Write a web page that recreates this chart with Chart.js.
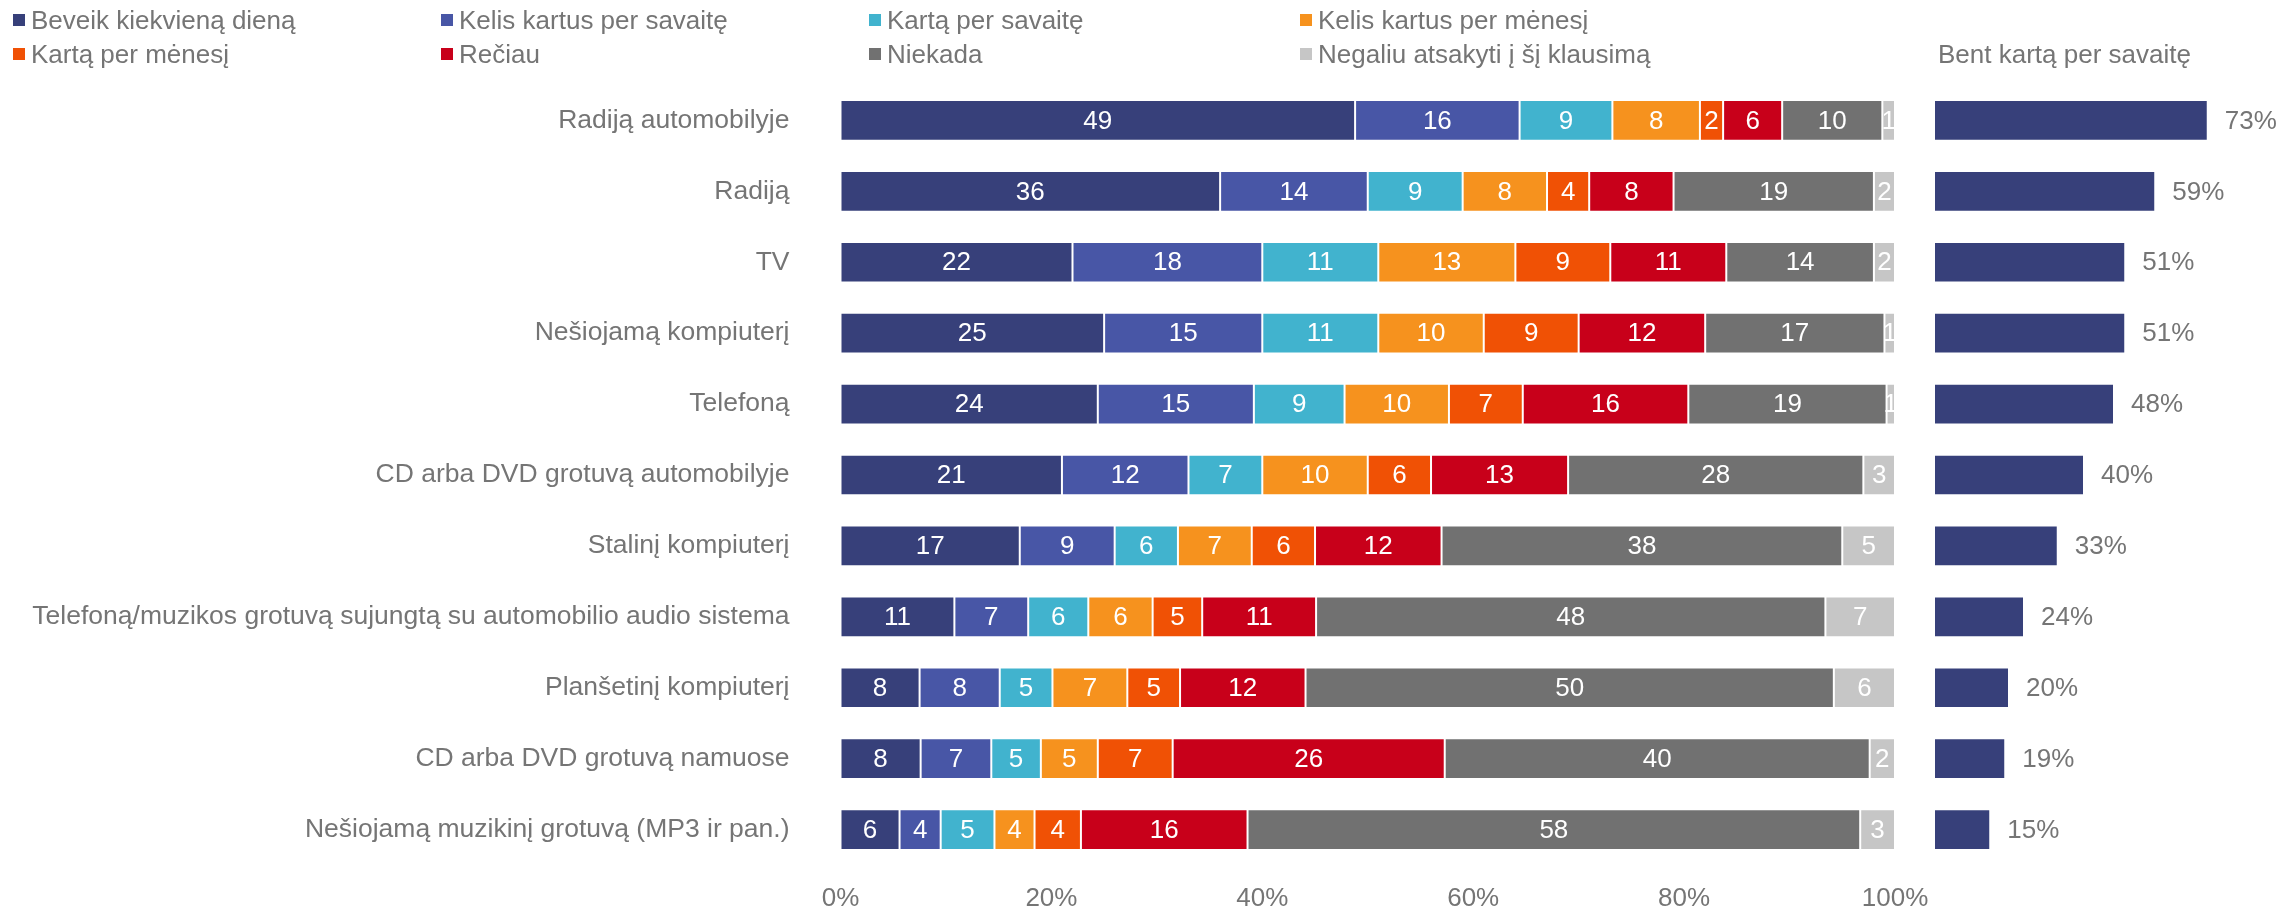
<!DOCTYPE html>
<html>
<head>
<meta charset="utf-8">
<title>Radijo ir muzikos klausymas</title>
<script src="https://cdn.jsdelivr.net/npm/chart.js@4.4.1/dist/chart.umd.min.js"></script>
<style>
  body { margin: 0; background: #fff; }
  #wrap { position: relative; width: 2280px; height: 908px; font-family: "Liberation Sans", Arial, sans-serif; color: #757575; }
  #wrap canvas { position: absolute; left: 0; top: 0; }
  .leg { position: absolute; display: flex; align-items: center; font-size: 26px; line-height: 30px; white-space: nowrap; }
  .leg i { display: inline-block; width: 12px; height: 12px; margin-right: 6px; }
  #rightTitle { position: absolute; left: 1938px; top: 39px; font-size: 26px; line-height: 30px; white-space: nowrap; }
</style>
</head>
<body>
<div id="wrap">
  <canvas id="main" width="2280" height="908"></canvas>
  <canvas id="side" width="2280" height="908"></canvas>
  <div id="legend"></div>
  <div id="rightTitle">Bent kartą per savaitę</div>
</div>
<script>
const categories = [
  "Radiją automobilyje",
  "Radiją",
  "TV",
  "Nešiojamą kompiuterį",
  "Telefoną",
  "CD arba DVD grotuvą automobilyje",
  "Stalinį kompiuterį",
  "Telefoną/muzikos grotuvą sujungtą su automobilio audio sistema",
  "Planšetinį kompiuterį",
  "CD arba DVD grotuvą namuose",
  "Nešiojamą muzikinį grotuvą (MP3 ir pan.)"
];

const seriesNames = [
  "Beveik kiekvieną dieną",
  "Kelis kartus per savaitę",
  "Kartą per savaitę",
  "Kelis kartus per mėnesį",
  "Kartą per mėnesį",
  "Rečiau",
  "Niekada",
  "Negaliu atsakyti į šį klausimą"
];

const seriesColors = ["#37407a", "#4856a6", "#41b3ce", "#f6921e", "#f05105", "#c8001a", "#717171", "#c6c6c6"];

// values (labels are the rounded values)
const everyDay      = [48.8, 36, 22, 25, 24.4, 21, 17, 10.8, 7.5,  7.6,  5.6];
const fewPerWeek    = [15.6, 14, 18, 15, 14.8, 12,  9,  7.0, 7.6,  6.7,  3.9];
const oncePerWeek   = [ 8.8,  9, 11, 11,  8.6,  7,  6,  5.7, 5.0,  4.7,  5.1];
const fewPerMonth   = [ 8.3,  8, 13, 10,  9.9, 10,  7,  6.1, 7.1,  5.4,  3.8];
const oncePerMonth  = [ 2.2,  4,  9,  9,  7.0,  6,  6,  4.7, 5.0,  7.1,  4.4];
const lessOften     = [ 5.6,  8, 11, 12, 15.7, 13, 12, 10.8, 11.9, 25.8, 15.8];
const never         = [ 9.5, 19, 14, 17, 18.8, 28, 38, 48.3, 50.1, 40.3, 58.1];
const cannotAnswer  = [ 1.2,  2,  2,  1,  0.8,  3,  5,  6.6, 5.8,  2.4,  3.3];

const atLeastWeekly = [73, 59, 51, 51, 48, 40, 33, 24, 20, 19, 15];

const xTicks = [0, 20, 40, 60, 80, 100];

const textColor = "#757575";
const fontFamily = '"Liberation Sans", Arial, sans-serif';

Chart.defaults.font.family = fontFamily;
Chart.defaults.font.size = 26;
Chart.defaults.color = textColor;

// html legend, 4 columns x 2 rows
const legendCols = [13, 441, 869, 1300];
const legendRows = [5, 39];
const legendEl = document.getElementById("legend");
seriesNames.forEach((name, i) => {
  const d = document.createElement("div");
  d.className = "leg";
  d.style.left = legendCols[i % 4] + "px";
  d.style.top = legendRows[Math.floor(i / 4)] + "px";
  d.innerHTML = '<i style="background:' + seriesColors[i] + '"></i>' + name;
  legendEl.appendChild(d);
});

const allSeries = [everyDay, fewPerWeek, oncePerWeek, fewPerMonth, oncePerMonth, lessOften, never, cannotAnswer];

const segmentLabels = {
  id: "segmentLabels",
  afterDatasetsDraw(chart) {
    const ctx = chart.ctx;
    ctx.save();
    ctx.font = "26px " + fontFamily;
    ctx.fillStyle = "#fff";
    ctx.textAlign = "center";
    ctx.textBaseline = "middle";
    chart.data.datasets.forEach((ds, i) => {
      chart.getDatasetMeta(i).data.forEach((bar, j) => {
        ctx.fillText(Math.round(ds.data[j]), (bar.x + bar.base) / 2, bar.y + 1);
      });
    });
    ctx.restore();
  }
};

const endLabels = {
  id: "endLabels",
  afterDatasetsDraw(chart) {
    const ctx = chart.ctx;
    ctx.save();
    ctx.font = "26px " + fontFamily;
    ctx.fillStyle = textColor;
    ctx.textAlign = "left";
    ctx.textBaseline = "middle";
    const ds = chart.data.datasets[0];
    chart.getDatasetMeta(0).data.forEach((bar, j) => {
      ctx.fillText(ds.data[j] + "%", bar.x + 17, bar.y + 1);
    });
    ctx.restore();
  }
};

new Chart(document.getElementById("main"), {
  type: "bar",
  data: {
    labels: categories,
    datasets: allSeries.map((vals, i) => ({
      label: seriesNames[i],
      data: vals,
      backgroundColor: seriesColors[i],
      borderColor: "rgba(255,255,255,0.35)",
      borderWidth: 1,
      borderSkipped: false,
      barPercentage: 0.574,
      categoryPercentage: 1
    }))
  },
  options: {
    indexAxis: "y",
    responsive: false,
    animation: false,
    layout: { padding: { top: 85, right: 385, bottom: 0, left: 0 } },
    plugins: { legend: { display: false }, tooltip: { enabled: false } },
    scales: {
      x: {
        stacked: true,
        min: 0,
        max: 100,
        afterBuildTicks: s => { s.ticks = xTicks.map(v => ({ value: v })); },
        ticks: { callback: v => v + "%", color: textColor, padding: 18 },
        grid: { display: false, drawTicks: false },
        border: { display: false },
        afterFit: s => { s.height = 43; }
      },
      y: {
        stacked: true,
        ticks: { color: textColor, padding: 51, font: { size: 26.5 } },
        grid: { display: false, drawTicks: false },
        border: { display: false },
        afterFit: s => {
          s.width = 840.5;
          // keep the label padding from pushing the plot area around
          s.paddingTop = 0;
          s.paddingBottom = 0;
        }
      }
    }
  },
  plugins: [segmentLabels]
});

new Chart(document.getElementById("side"), {
  type: "bar",
  data: {
    labels: categories,
    datasets: [{
      label: "Bent kartą per savaitę",
      data: atLeastWeekly,
      backgroundColor: "#37407a",
      borderColor: "rgba(255,255,255,0.35)",
      borderWidth: 1,
      borderSkipped: false,
      barPercentage: 0.574,
      categoryPercentage: 1
    }]
  },
  options: {
    indexAxis: "y",
    responsive: false,
    animation: false,
    layout: { padding: { top: 85, right: 46, bottom: 43, left: 1934 } },
    plugins: { legend: { display: false }, tooltip: { enabled: false } },
    scales: {
      x: { display: false, min: 0, max: 80 },
      y: { display: false }
    }
  },
  plugins: [endLabels]
});
</script>
</body>
</html>
